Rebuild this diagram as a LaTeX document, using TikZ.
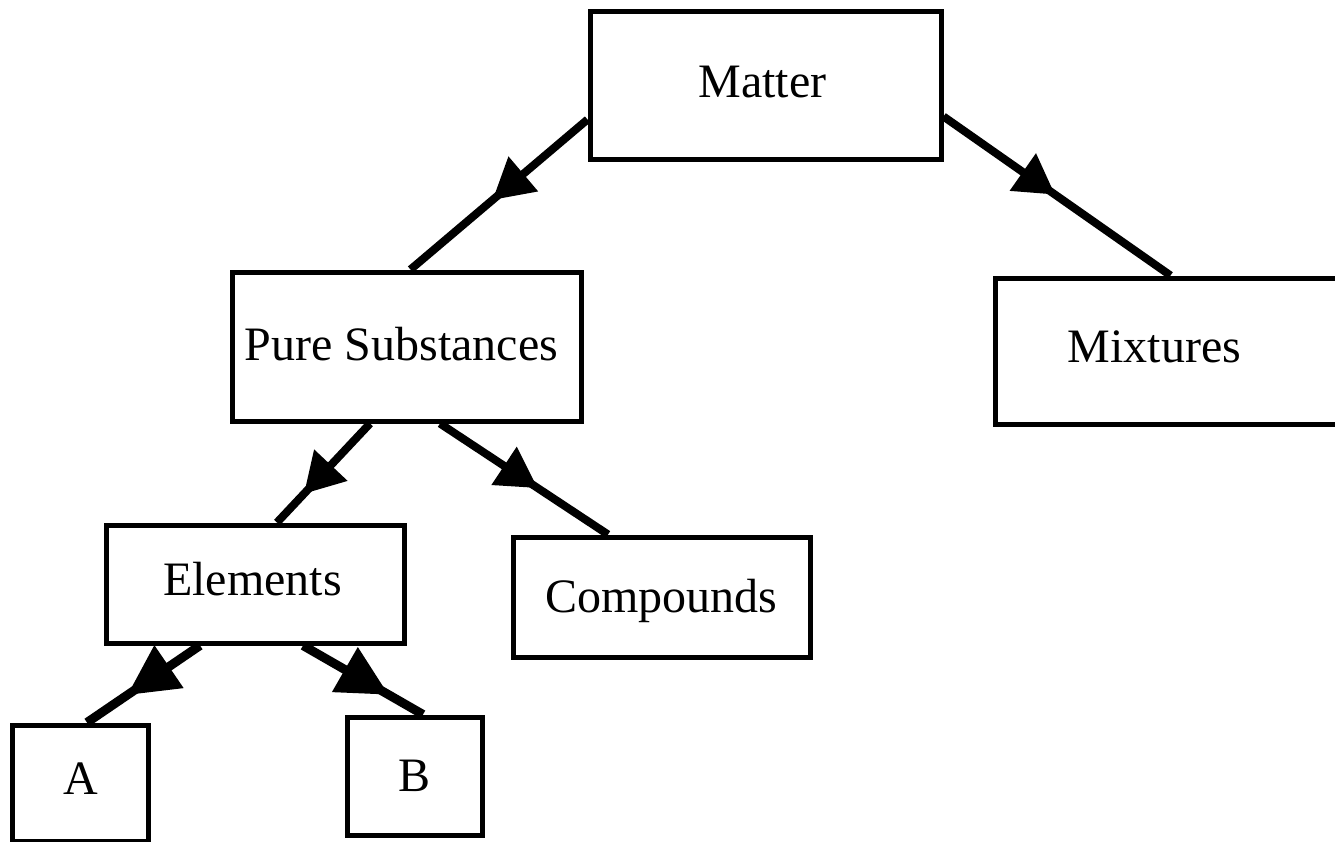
\documentclass[tikz,border=0pt]{standalone}
\usepackage{fontspec}
\setmainfont{Liberation Serif}
\usetikzlibrary{arrows.meta,decorations.markings}
\tikzset{
  box/.style={draw=black, line width=5bp, rectangle, inner sep=0pt, text depth=0pt,
    text height=23bp, font=\fontsize{48bp}{56bp}\selectfont},
  conn/.style={draw=black, line width=8bp, line cap=butt},
  midarrow/.style 2 args={postaction={decorate}, decoration={markings,
    mark=at position #1 with {\arrow{Triangle[length=#2bp, width=46bp, line width=0pt]}}}},
  bigarrow/.style={postaction={decorate}, decoration={markings,
    mark=at position #1 with {\arrow{Triangle[length=50bp, width=52bp, line width=0pt]}}}},
}
\begin{document}
\begin{tikzpicture}[x=1bp, y=-1bp]
\useasboundingbox (0,0) rectangle (1335,841);
\node[box, minimum width=351bp, minimum height=147bp] (matter) at (765.5,85.5) {\hspace*{-6bp}Matter};
\node[box, minimum width=349bp, minimum height=149bp, text height=28bp] (pure) at (406.5,346.5) {\hspace*{-10bp}Pure Substances};
\node[box, minimum width=343bp, minimum height=146bp] (mix) at (1166.5,351) {\hspace*{-24bp}Mixtures};
\node[box, minimum width=298bp, minimum height=118bp] (elem) at (255.5,584) {\hspace*{-6bp}Elements};
\node[box, minimum width=297bp, minimum height=120bp, text height=31bp] (comp) at (661.5,597) {Compounds};
\node[box, minimum width=135bp, minimum height=116bp] (a) at (80.5,783) {A};
\node[box, minimum width=135bp, minimum height=118bp, text height=31bp] (b) at (414.5,776) {B};

\draw[conn, midarrow={0.535}{40}] ([yshift=-34bp]matter.west) -- ([xshift=4bp]pure.north);
\draw[conn, midarrow={0.49}{39}] ([yshift=-31bp]matter.east) -- ([xshift=4bp]mix.north);
\draw[conn, midarrow={0.71}{39}] ([xshift=-36.5bp]pure.south) -- ([xshift=21.5bp]elem.north);
\draw[conn, midarrow={0.58}{40}] ([xshift=33.5bp]pure.south) -- ([xshift=-53.5bp]comp.north);
\draw[conn, line width=9bp, bigarrow=0.64] ([xshift=-55.5bp]elem.south) -- ([xshift=6.5bp]a.north);
\draw[conn, line width=9bp, bigarrow=0.71] ([xshift=47.5bp]elem.south) -- ([xshift=8.5bp]b.north);
\end{tikzpicture}
\end{document}
